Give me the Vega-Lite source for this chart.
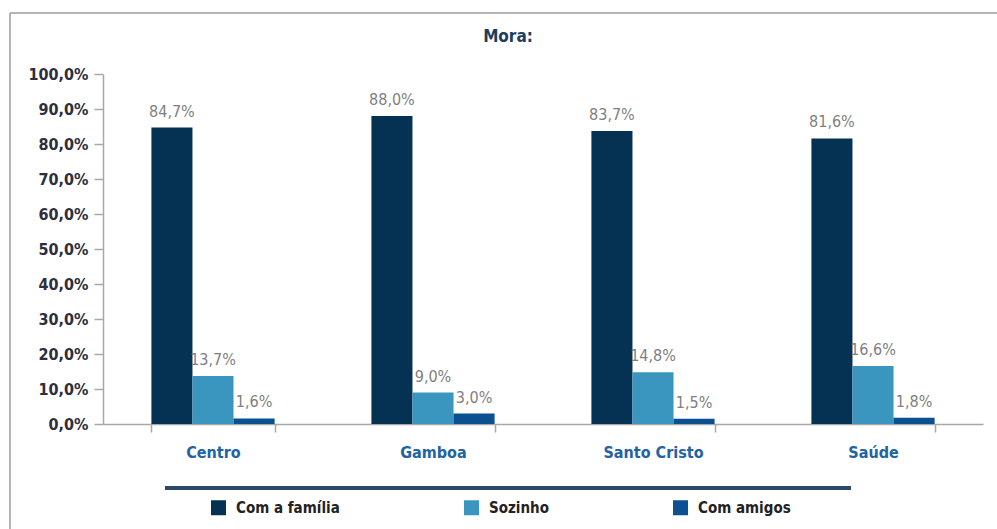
{
  "$schema": "https://vega.github.io/schema/vega-lite/v6.json",
  "autosize": "none",
  "width": 880,
  "height": 350,
  "padding": {"left": 103, "top": 74, "right": 14, "bottom": 105},
  "background": "white",
  "config": {
    "locale": {"number": {"decimal": ",", "thousands": ".", "grouping": [3], "currency": ["R$", ""]}},
    "view": {"stroke": null},
    "font": "DejaVu Sans Condensed, Liberation Sans Narrow, DejaVu Sans",
    "axisY": {
      "title": null, "tickCount": 12, "values": [0, 0.1, 0.2, 0.3, 0.4, 0.5, 0.6, 0.7, 0.8, 0.9, 1.0],
      "format": ".1%", "grid": false, "labelOverlap": false,
      "tickSize": 9, "tickColor": "#a8a8a8", "tickWidth": 1.5,
      "domainColor": "#a8a8a8", "domainWidth": 1.5,
      "labelPadding": 6, "labelFontSize": 16, "labelFontWeight": "bold",
      "labelColor": "#2e2e3c"
    }
  },
  "title": {
    "text": "Mora:",
    "anchor": "middle",
    "dx": -35,
    "offset": -34,
    "fontSize": 17,
    "fontWeight": "bold",
    "color": "#1c3d5e",
    "font": "DejaVu Sans Condensed, Liberation Sans Narrow, DejaVu Sans"
  },
  "data": {
    "values": [
      {"bairro": "Centro", "tipo": "Com a família", "valor": 0.847},
      {"bairro": "Centro", "tipo": "Sozinho", "valor": 0.137},
      {"bairro": "Centro", "tipo": "Com amigos", "valor": 0.016},
      {"bairro": "Gamboa", "tipo": "Com a família", "valor": 0.880},
      {"bairro": "Gamboa", "tipo": "Sozinho", "valor": 0.090},
      {"bairro": "Gamboa", "tipo": "Com amigos", "valor": 0.030},
      {"bairro": "Santo Cristo", "tipo": "Com a família", "valor": 0.837},
      {"bairro": "Santo Cristo", "tipo": "Sozinho", "valor": 0.148},
      {"bairro": "Santo Cristo", "tipo": "Com amigos", "valor": 0.015},
      {"bairro": "Saúde", "tipo": "Com a família", "valor": 0.816},
      {"bairro": "Saúde", "tipo": "Sozinho", "valor": 0.166},
      {"bairro": "Saúde", "tipo": "Com amigos", "valor": 0.018}
    ]
  },
  "resolve": {"scale": {"x": "independent"}, "axis": {"y": "independent", "x": "independent"}},
  "layer": [
    {
      "layer": [
        {
          "mark": {"type": "bar"},
          "encoding": {
            "x": {
              "field": "bairro", "type": "nominal",
              "sort": ["Centro", "Gamboa", "Santo Cristo", "Saúde"],
              "scale": {"paddingInner": 0.44, "paddingOuter": 0.22},
              "axis": {
                "title": null, "labelAngle": 0, "tickBand": "extent",
                "tickSize": 8, "tickColor": "#a8a8a8", "tickWidth": 1.5,
                "domainColor": "#a8a8a8", "domainWidth": 1.5,
                "labelPadding": 12, "labelFontSize": 16, "labelFontWeight": "bold",
                "labelColor": "#2163a3"
              }
            },
            "xOffset": {"field": "tipo", "type": "nominal", "sort": ["Com a família", "Sozinho", "Com amigos"]},
            "y": {
              "field": "valor", "type": "quantitative",
              "scale": {"domain": [0, 1], "nice": false},
              "axis": {"values": [0, 0.1, 0.2, 0.3, 0.4, 0.5, 0.6, 0.7, 0.8, 0.9, 1.0], "labelOverlap": false, "tickCount": 12}
            },
            "color": {
              "field": "tipo", "type": "nominal",
              "scale": {"domain": ["Com a família", "Sozinho", "Com amigos"], "range": ["#053152", "#3a95bf", "#0b5191"]},
              "legend": {
                "title": null, "orient": "none", "direction": "horizontal",
                "legendX": 108, "legendY": 426,
                "symbolType": "square", "symbolSize": 225, "symbolStrokeWidth": 0,
                "labelFontSize": 15, "labelFontWeight": "bold", "labelColor": "#222222",
                "labelOffset": 10, "columnPadding": 124, "labelLimit": 300
              }
            }
          }
        },
        {
          "mark": {"type": "text", "baseline": "bottom", "dy": -8, "fontSize": 16, "color": "#7f7f7f"},
          "encoding": {
            "x": {"field": "bairro", "type": "nominal", "sort": ["Centro", "Gamboa", "Santo Cristo", "Saúde"]},
            "xOffset": {"field": "tipo", "type": "nominal", "sort": ["Com a família", "Sozinho", "Com amigos"]},
            "y": {"field": "valor", "type": "quantitative", "axis": {"values": [0, 0.1, 0.2, 0.3, 0.4, 0.5, 0.6, 0.7, 0.8, 0.9, 1.0], "labelOverlap": false, "tickCount": 12}},
            "text": {"field": "valor", "type": "quantitative", "format": ".1%"}
          }
        }
      ]
    },
    {
      "layer": [
        {
          "mark": {"type": "rule", "color": "#2a4868", "strokeWidth": 2.5},
          "encoding": {
            "x": {"datum": 0.0705, "type": "quantitative", "scale": {"domain": [0, 1], "nice": false, "zero": false}, "axis": null},
            "x2": {"datum": 0.85},
            "y": {"datum": -0.183, "type": "quantitative", "axis": null}
          }
        },
        {
          "mark": {"type": "rule", "color": "#b4b4b4", "strokeWidth": 1.5},
          "encoding": {
            "x": {"datum": -0.1057, "type": "quantitative", "axis": null},
            "x2": {"datum": 1.02},
            "y": {"datum": 1.174, "type": "quantitative", "axis": null}
          }
        },
        {
          "mark": {"type": "rule", "color": "#b4b4b4", "strokeWidth": 1.5},
          "encoding": {
            "x": {"datum": -0.1057, "type": "quantitative", "axis": null},
            "y": {"datum": 1.174, "type": "quantitative", "axis": null},
            "y2": {"datum": -0.32}
          }
        }
      ]
    }
  ]
}
